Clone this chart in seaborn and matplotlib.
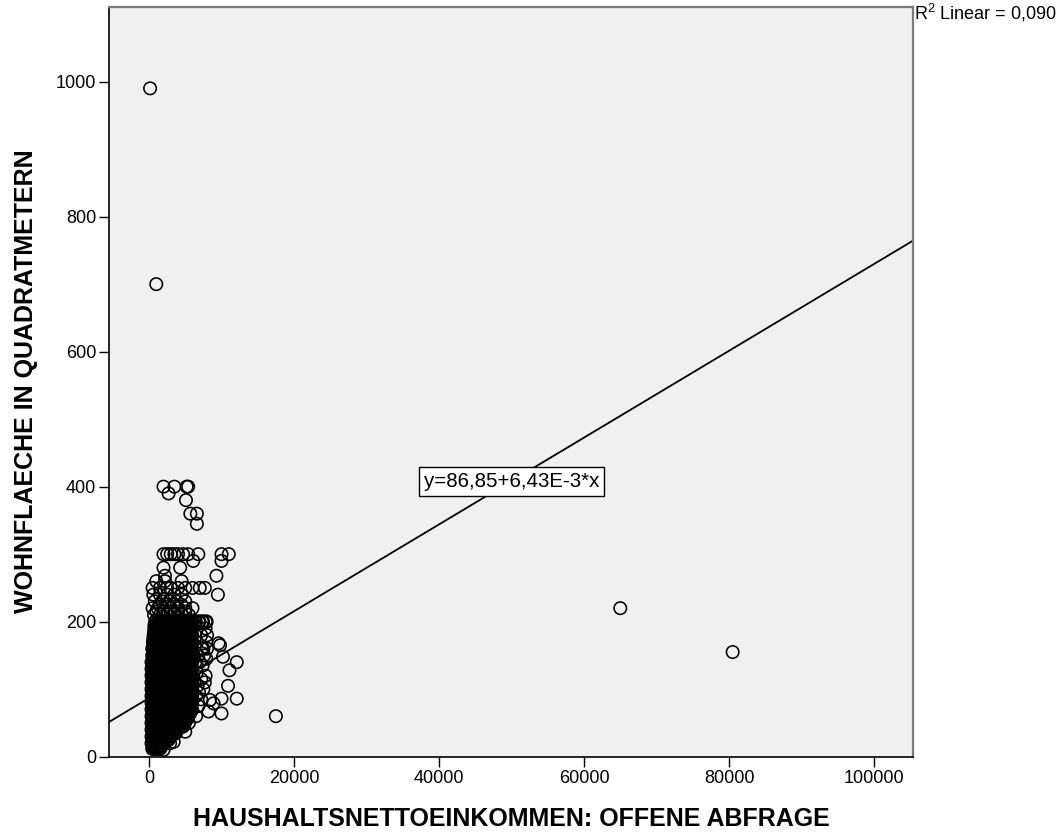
import matplotlib
matplotlib.use("Agg")
import matplotlib.pyplot as plt
import seaborn as sns
import pandas as pd

# ---------------- data ----------------
# dense core: each area level with the incomes observed on that row
core_levels = [12, 15, 20, 25, 30, 35, 40, 45, 50, 55, 60, 65,
               70, 75, 80, 85, 90, 95, 100, 105, 110, 115, 120, 125,
               130, 135, 140, 145, 150, 155, 160, 165, 170, 175, 180, 185,
               190, 195, 200]
core_rows = [
    [500, 1000, 1500],
    [650, 1150, 1650],
    [400, 900, 1400, 1900],
    [650, 1150, 1650, 2150, 2650],
    [400, 900, 1400, 1900, 2400, 2900],
    [650, 1150, 1650, 2150, 2650, 3150, 3650],
    [400, 900, 1400, 1900, 2400, 2900, 3400, 3900],
    [650, 1150, 1650, 2150, 2650, 3150, 3650, 4150, 4650],
    [400, 900, 1400, 1900, 2400, 2900, 3400, 3900, 4400, 4900],
    [650, 1150, 1650, 2150, 2650, 3150, 3650, 4150, 4650, 5150],
    [400, 900, 1400, 1900, 2400, 2900, 3400, 3900, 4400, 4900, 5400],
    [650, 1150, 1650, 2150, 2650, 3150, 3650, 4150, 4650, 5150, 5650],
    [400, 900, 1400, 1900, 2400, 2900, 3400, 3900, 4400, 4900, 5400, 5900],
    [650, 1150, 1650, 2150, 2650, 3150, 3650, 4150, 4650, 5150, 5650],
    [400, 900, 1400, 1900, 2400, 2900, 3400, 3900, 4400, 4900, 5400, 5900],
    [650, 1150, 1650, 2150, 2650, 3150, 3650, 4150, 4650, 5150, 5650],
    [400, 900, 1400, 1900, 2400, 2900, 3400, 3900, 4400, 4900, 5400, 5900],
    [650, 1150, 1650, 2150, 2650, 3150, 3650, 4150, 4650, 5150, 5650],
    [400, 900, 1400, 1900, 2400, 2900, 3400, 3900, 4400, 4900, 5400, 5900],
    [650, 1150, 1650, 2150, 2650, 3150, 3650, 4150, 4650, 5150, 5650],
    [400, 900, 1400, 1900, 2400, 2900, 3400, 3900, 4400, 4900, 5400, 5900],
    [650, 1150, 1650, 2150, 2650, 3150, 3650, 4150, 4650, 5150, 5650],
    [400, 900, 1400, 1900, 2400, 2900, 3400, 3900, 4400, 4900, 5400, 5900],
    [650, 1150, 1650, 2150, 2650, 3150, 3650, 4150, 4650, 5150, 5650],
    [400, 900, 1400, 1900, 2400, 2900, 3400, 3900, 4400, 4900, 5400, 5900],
    [650, 1150, 1650, 2150, 2650, 3150, 3650, 4150, 4650, 5150, 5650],
    [400, 900, 1400, 1900, 2400, 2900, 3400, 3900, 4400, 4900, 5400, 5900],
    [650, 1150, 1650, 2150, 2650, 3150, 3650, 4150, 4650, 5150, 5650],
    [500, 900, 1400, 1900, 2400, 2900, 3400, 3900, 4400, 4900, 5400, 5900],
    [650, 1150, 1650, 2150, 2650, 3150, 3650, 4150, 4650, 5150, 5650],
    [500, 900, 1400, 1900, 2400, 2900, 3400, 3900, 4400, 4900, 5400, 5900],
    [650, 1150, 1650, 2150, 2650, 3150, 3650, 4150, 4650, 5150, 5650],
    [600, 1000, 1400, 1900, 2400, 2900, 3400, 3900, 4400, 4900, 5400, 5900],
    [650, 1150, 1650, 2150, 2650, 3150, 3650, 4150, 4650, 5150, 5650],
    [700, 1100, 1500, 1900, 2400, 2900, 3400, 3900, 4400, 4900, 5400, 5900],
    [750, 1150, 1650, 2150, 2650, 3150, 3650, 4150, 4650, 5150, 5650],
    [800, 1200, 1600, 2000, 2400, 2900, 3400, 3900, 4400, 4900, 5400, 5900],
    [800, 1150, 1650, 2150, 2650, 3150, 3650, 4150, 4650, 5150, 5650],
    [900, 1400, 1900, 2400, 2900, 3400, 3900, 4400, 4900, 5400, 5900, 6400,
     6900, 7400, 7900],
]

# sparser rings at the right edge of the core
fringe_income = [2000, 2900, 3400, 5000, 5500, 6500, 6800, 7200, 6500, 7500,
                 6700, 7200, 7800, 6600, 7400, 7900, 6800, 7500, 7900, 6600,
                 7200, 7800, 6500, 7600, 7000, 7700, 6900, 7300, 6400, 6300,
                 8000, 8000, 6400]
fringe_area = [10, 20, 22, 37, 50, 60, 75, 85, 90, 100,
               105, 115, 120, 125, 135, 145, 150, 160, 170, 170,
               180, 190, 185, 150, 140, 110, 95, 160, 140, 110,
               180, 160, 195]

# rows above 200 m²
upper_income = [700, 1500, 2500, 3500, 4500, 5500,
                1000, 2000, 3000, 4000, 5000,
                500, 1200, 2000, 3000, 4000, 5000, 6000,
                1500, 2500, 3500, 4500,
                800, 1800, 2800, 3800, 5000,
                600, 1500, 2500, 3500, 4500, 9500,
                500, 1500, 2500, 3000, 4000, 5000, 6000, 7000, 7700,
                1000, 2200, 4500,
                2200, 9300,
                2000, 4300,
                6100, 10000,
                2000, 2500, 3000, 3500, 4000, 4700, 5400, 6800, 10000, 11000]
upper_area = [210, 210, 210, 210, 210, 210,
              215, 215, 215, 215, 215,
              220, 220, 220, 220, 220, 220, 220,
              225, 225, 225, 225,
              230, 230, 230, 230, 230,
              240, 240, 240, 240, 240, 240,
              250, 250, 250, 250, 250, 250, 250, 250, 250,
              260, 260, 260,
              268, 268,
              280, 280,
              290, 290,
              300, 300, 300, 300, 300, 300, 300, 300, 300, 300]

# group around 350-400 m²
top_income = [2000, 3500, 5200, 5400, 2700, 5100, 5700, 6600, 6600]
top_area = [400, 400, 400, 400, 390, 380, 360, 360, 345]

# isolated points
out_income = [150, 1000, 65000, 80500, 17500, 9800, 10200, 12100, 11100,
              10900, 12100, 10000, 10000, 8200, 8400, 8900, 9600]
out_area = [990, 700, 220, 155, 60, 165, 148, 140, 128,
            105, 86, 86, 64, 67, 84, 79, 168]

# regression (as printed in the chart)
intercept = 86.85
slope = 6.43e-3
eq_label = "y=86,85+6,43E-3*x"
r2_label = r"R$^2$ Linear = 0,090"
eq_pos_income = 50000
eq_pos_area = 408

x_ticks = [0, 20000, 40000, 60000, 80000, 100000]
y_ticks = [0, 200, 400, 600, 800, 1000]
x_title = "HAUSHALTSNETTOEINKOMMEN: OFFENE ABFRAGE"
y_title = "WOHNFLAECHE IN QUADRATMETERN"

# ---------------- assemble ----------------
core_income = []
core_area = []
for lvl, row in zip(core_levels, core_rows):
    core_income += row
    core_area += [lvl] * len(row)
core_df = pd.DataFrame({"income": core_income, "area": core_area})

rest_income = []
rest_area = []
for xs, ys in [(fringe_income, fringe_area), (upper_income, upper_area),
               (top_income, top_area), (out_income, out_area)]:
    assert len(xs) == len(ys)
    rest_income += xs
    rest_area += ys
rest_df = pd.DataFrame({"income": rest_income, "area": rest_area})

# ---------------- style ----------------
sns.set_theme(style="white")
plt.rcParams["font.family"] = ["Liberation Sans", "DejaVu Sans"]
plt.rcParams["mathtext.fontset"] = "custom"
plt.rcParams["mathtext.rm"] = "Liberation Sans"
plt.rcParams["mathtext.it"] = "Liberation Sans:italic"

fig = plt.figure(figsize=(10.62, 8.34), dpi=100)
fig.patch.set_facecolor("white")
ax = fig.add_axes([0.1031, 0.0927, 0.7563, 0.8993])
ax.set_facecolor("#F0F0F0")

# the dense core overlaps so much that it renders as a solid mass
sns.scatterplot(data=core_df, x="income", y="area", ax=ax, marker="o", s=80,
                facecolor="none", edgecolor="black", linewidth=1.7,
                zorder=3, legend=False)
sns.scatterplot(data=rest_df, x="income", y="area", ax=ax, marker="o", s=80,
                facecolor="none", edgecolor="black", linewidth=1.15,
                zorder=3, legend=False)

ax.axline((0, intercept), slope=slope, color="black", lw=1.3, zorder=2)

ax.set_xlim(-5450, 105330)
ax.set_ylim(0, 1111)
ax.set_xticks(x_ticks)
ax.set_yticks(y_ticks)
ax.set_xticklabels([str(v) for v in x_ticks])
ax.set_yticklabels([str(v) for v in y_ticks])
ax.tick_params(axis="both", which="major", direction="out", length=7.5,
               width=1.0, color="black", labelsize=13, labelcolor="black",
               pad=2, bottom=True, left=True)

for side in ["left", "bottom"]:
    ax.spines[side].set_color("black")
    ax.spines[side].set_linewidth(1.2)
for side in ["top", "right"]:
    ax.spines[side].set_color("#7a7a7a")
    ax.spines[side].set_linewidth(1.6)

ax.set_xlabel(x_title, fontsize=18, fontweight="bold", color="black")
ax.set_ylabel(y_title, fontsize=18, fontweight="bold", color="black")
ax.xaxis.set_label_coords(0.5, -0.067)
ax.yaxis.set_label_coords(-0.089, 0.5)

ax.text(eq_pos_income, eq_pos_area, eq_label, ha="center", va="center",
        fontsize=14.8, color="black", zorder=5,
        bbox=dict(boxstyle="square,pad=0.25", fc="white", ec="black", lw=1.0))

fig.text(914 / 1062, (834 - 20) / 834, r2_label, ha="left", va="baseline",
         fontsize=13, color="black")

fig.savefig("out.png", dpi=100)
